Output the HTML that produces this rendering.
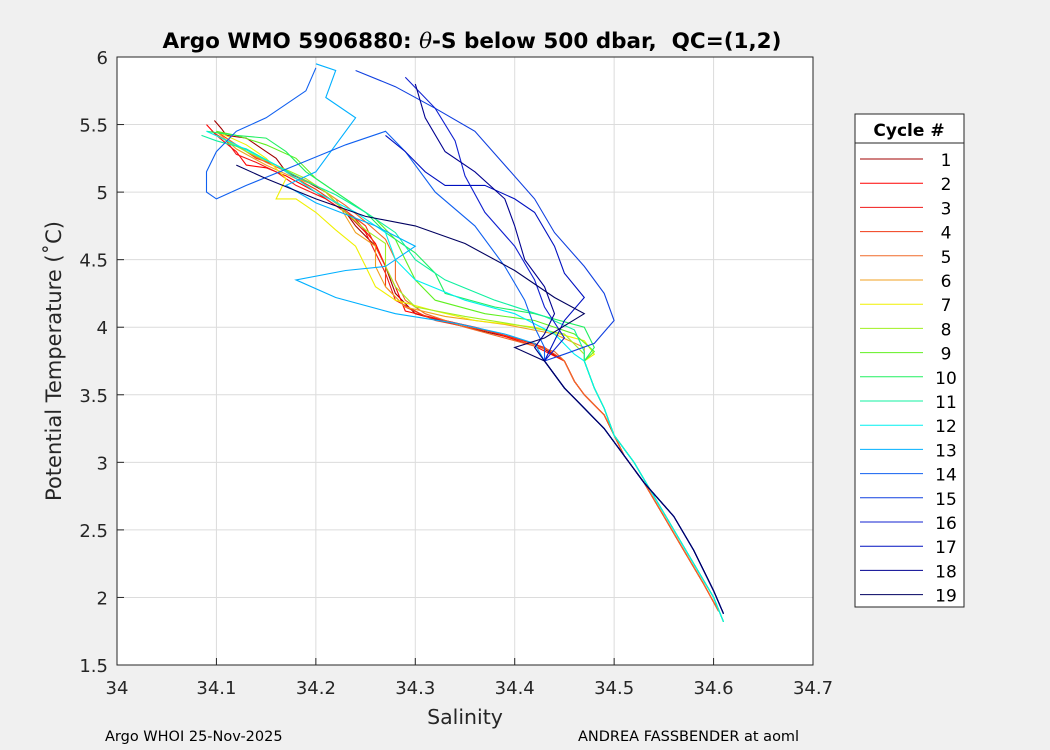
<!DOCTYPE html>
<html><head><meta charset="utf-8"><style>
body{margin:0;background:#f0f0f0;}
svg{display:block;font-family:"DejaVu Sans","Liberation Sans",sans-serif;}
</style></head><body>
<svg id="chart" width="1050" height="750">
<rect x="0" y="0" width="1050" height="750" fill="#f0f0f0"/>
<rect x="117" y="57" width="696" height="608" fill="#fff"/>
<g id="grid"></g>
<g id="series"></g>
<rect x="117" y="57" width="696" height="608" fill="none" stroke="#262626" stroke-width="1"/>
<g id="ticks"></g>
<text x="472" y="48" text-anchor="middle" font-size="21.5" font-weight="bold" fill="#000" xml:space="preserve">Argo WMO 5906880: <tspan font-family="DejaVu Serif,serif" font-style="italic" font-weight="normal">θ</tspan>-S below 500 dbar,  QC=(1,2)</text>
<text x="465" y="724" text-anchor="middle" font-size="20.5" fill="#262626">Salinity</text>
<text transform="translate(61,361) rotate(-90)" text-anchor="middle" font-size="21" fill="#262626">Potential Temperature (˚C)</text>
<text x="105" y="741" font-size="14.5" fill="#000">Argo WHOI 25-Nov-2025</text>
<text x="578" y="741" font-size="14.5" fill="#000">ANDREA FASSBENDER at aoml</text>
<g id="legend">
<rect x="855" y="114" width="109" height="493" fill="#fff" stroke="#262626"/>
<line x1="855" y1="143" x2="964" y2="143" stroke="#262626"/>
<text x="909" y="136" text-anchor="middle" font-size="17" font-weight="bold">Cycle #</text>
</g>
</svg>
<script>
const xTicks=[34,34.1,34.2,34.3,34.4,34.5,34.6,34.7];
const yTicks=[1.5,2,2.5,3,3.5,4,4.5,5,5.5,6];
const cycles=[1,2,3,4,5,6,7,8,9,10,11,12,13,14,15,16,17,18,19];
const colors=["#a00000","#ff0000","#f01818","#f03a14","#f06a28","#f0a020","#f0f000","#a0f020","#60f020","#20f060","#10f0a0","#00f0f0","#00b0ff","#1060f0","#1040e0","#1020d0","#0010c0","#000090","#000060"];
const tailA=[[34.45,3.75],[34.46,3.6],[34.47,3.5],[34.49,3.35],[34.5,3.2],[34.51,3.05],[34.53,2.85],[34.55,2.6],[34.57,2.35],[34.59,2.1],[34.605,1.9]];
const tailB=[[34.47,3.75],[34.48,3.55],[34.49,3.4],[34.5,3.2],[34.52,3.0],[34.54,2.75],[34.56,2.5],[34.58,2.25],[34.6,2.0],[34.61,1.82]];
const tailC=[[34.43,3.75],[34.45,3.55],[34.47,3.4],[34.49,3.25],[34.51,3.05],[34.53,2.85],[34.56,2.6],[34.58,2.35],[34.6,2.05],[34.61,1.88]];
const tailChoice=["A","A","A","A","A","B","B","B","B","B","B","B","C","C","C","C","C","C","C"];
const heads=[
[[34.098,5.53],[34.105,5.47],[34.11,5.42],[34.13,5.4],[34.14,5.35],[34.15,5.3],[34.16,5.25],[34.17,5.15],[34.19,5.08],[34.21,5.0],[34.23,4.85],[34.24,4.75],[34.26,4.6],[34.27,4.45],[34.28,4.25],[34.3,4.1],[34.34,4.02],[34.38,3.95],[34.42,3.88]],
[[34.09,5.5],[34.1,5.42],[34.12,5.3],[34.13,5.2],[34.15,5.18],[34.17,5.12],[34.2,5.0],[34.22,4.9],[34.24,4.8],[34.26,4.62],[34.27,4.45],[34.28,4.3],[34.29,4.12],[34.33,4.05],[34.37,3.98],[34.42,3.86]],
[[34.095,5.45],[34.11,5.38],[34.12,5.28],[34.14,5.22],[34.16,5.15],[34.18,5.05],[34.21,4.95],[34.23,4.85],[34.25,4.7],[34.26,4.55],[34.27,4.4],[34.28,4.2],[34.31,4.08],[34.36,4.0],[34.4,3.92],[34.43,3.85]],
[[34.1,5.45],[34.12,5.35],[34.14,5.25],[34.16,5.2],[34.18,5.1],[34.2,5.02],[34.22,4.92],[34.25,4.75],[34.26,4.6],[34.27,4.45],[34.27,4.3],[34.29,4.15],[34.32,4.05],[34.38,3.96],[34.43,3.85]],
[[34.11,5.4],[34.13,5.3],[34.15,5.22],[34.18,5.12],[34.2,5.05],[34.23,4.9],[34.25,4.78],[34.27,4.65],[34.28,4.5],[34.28,4.35],[34.29,4.2],[34.31,4.1],[34.35,4.0],[34.4,3.9],[34.44,3.82]],
[[34.1,5.45],[34.12,5.32],[34.15,5.2],[34.18,5.1],[34.2,5.05],[34.22,4.95],[34.23,4.82],[34.24,4.7],[34.26,4.6],[34.26,4.45],[34.27,4.3],[34.29,4.15],[34.33,4.08],[34.39,4.02],[34.44,3.95],[34.47,3.85]],
[[34.1,5.45],[34.13,5.35],[34.15,5.25],[34.17,5.1],[34.16,4.95],[34.18,4.95],[34.2,4.85],[34.22,4.72],[34.24,4.6],[34.25,4.45],[34.26,4.3],[34.28,4.2],[34.32,4.12],[34.36,4.05],[34.42,4.0],[34.47,3.9],[34.48,3.8]],
[[34.1,5.42],[34.13,5.3],[34.16,5.2],[34.19,5.1],[34.21,5.0],[34.23,4.85],[34.25,4.72],[34.27,4.62],[34.27,4.45],[34.28,4.3],[34.3,4.15],[34.35,4.08],[34.4,4.02],[34.45,3.95],[34.47,3.8]],
[[34.1,5.45],[34.12,5.42],[34.15,5.35],[34.18,5.25],[34.2,5.1],[34.23,4.95],[34.26,4.8],[34.28,4.65],[34.29,4.5],[34.3,4.35],[34.32,4.2],[34.37,4.1],[34.42,4.05],[34.46,3.95],[34.48,3.82]],
[[34.09,5.45],[34.12,5.42],[34.15,5.4],[34.17,5.3],[34.19,5.15],[34.22,5.0],[34.25,4.85],[34.27,4.7],[34.3,4.55],[34.32,4.4],[34.33,4.25],[34.38,4.15],[34.42,4.1],[34.47,4.0],[34.48,3.85]],
[[34.085,5.42],[34.1,5.38],[34.13,5.32],[34.16,5.2],[34.19,5.08],[34.22,4.98],[34.25,4.85],[34.28,4.7],[34.3,4.5],[34.33,4.35],[34.38,4.2],[34.43,4.08],[34.46,3.98],[34.47,3.82]],
[[34.09,5.45],[34.12,5.35],[34.16,5.2],[34.2,5.0],[34.24,4.85],[34.27,4.7],[34.28,4.5],[34.3,4.35],[34.35,4.2],[34.4,4.1],[34.44,3.95],[34.46,3.8]],
[[34.2,5.95],[34.22,5.9],[34.21,5.7],[34.24,5.55],[34.22,5.35],[34.2,5.15],[34.17,5.05],[34.2,4.92],[34.26,4.75],[34.3,4.6],[34.27,4.45],[34.23,4.42],[34.18,4.35],[34.22,4.22],[34.28,4.1],[34.34,4.03],[34.39,3.95],[34.42,3.88]],
[[34.2,5.92],[34.19,5.75],[34.15,5.55],[34.12,5.45],[34.1,5.3],[34.09,5.15],[34.09,5.0],[34.1,4.95],[34.13,5.05],[34.18,5.2],[34.23,5.35],[34.27,5.45],[34.29,5.3],[34.32,5.0],[34.36,4.75],[34.39,4.45],[34.41,4.2],[34.42,4.0],[34.43,3.85]],
[[34.24,5.9],[34.28,5.78],[34.32,5.62],[34.36,5.45],[34.39,5.2],[34.42,4.95],[34.44,4.7],[34.47,4.45],[34.49,4.25],[34.5,4.05],[34.48,3.88],[34.45,3.8]],
[[34.29,5.85],[34.32,5.62],[34.34,5.38],[34.35,5.12],[34.37,4.85],[34.4,4.6],[34.42,4.35],[34.43,4.15],[34.45,3.92]],
[[34.27,5.42],[34.29,5.3],[34.31,5.15],[34.33,5.05],[34.37,5.05],[34.4,4.95],[34.42,4.85],[34.44,4.6],[34.45,4.4],[34.47,4.22],[34.45,4.05],[34.44,3.9]],
[[34.3,5.8],[34.31,5.55],[34.33,5.3],[34.36,5.15],[34.39,4.95],[34.4,4.75],[34.41,4.5],[34.43,4.3],[34.44,4.1],[34.43,3.95],[34.42,3.85]],
[[34.12,5.2],[34.15,5.1],[34.2,4.95],[34.25,4.82],[34.3,4.75],[34.35,4.62],[34.4,4.42],[34.44,4.22],[34.47,4.1],[34.43,3.92],[34.4,3.85]]
];
const NS="http://www.w3.org/2000/svg";
const X0=117,X1=813,Y0=665,Y1=57;
function xs(s){return X0+(s-34)/0.7*(X1-X0);}
function ys(t){return Y0-(t-1.5)/4.5*(Y0-Y1);}
const grid=document.getElementById('grid'),ticks=document.getElementById('ticks'),series=document.getElementById('series'),legend=document.getElementById('legend');
xTicks.forEach(v=>{
 const x=xs(v);
 const g=document.createElementNS(NS,'line');
 
 
 g.setAttribute('x1',x);g.setAttribute('x2',x);g.setAttribute('y1',Y1);g.setAttribute('y2',Y0);g.setAttribute('stroke','#dcdcdc');
 grid.appendChild(g);
 const t=document.createElementNS(NS,'line');
 
 
 t.setAttribute('x1',x);t.setAttribute('x2',x);t.setAttribute('y1',Y0);t.setAttribute('y2',Y0-7);t.setAttribute('stroke','#262626');
 ticks.appendChild(t);
 const l=document.createElementNS(NS,'text');
 
 
 l.setAttribute('x',x);l.setAttribute('y',Y0+29);l.setAttribute('text-anchor','middle');l.setAttribute('font-size','18');l.setAttribute('fill','#262626');
 l.textContent=String(v);
 ticks.appendChild(l);
});
yTicks.forEach(v=>{
 const y=ys(v);
 const g=document.createElementNS(NS,'line');
 
 
 g.setAttribute('x1',X0);g.setAttribute('x2',X1);g.setAttribute('y1',y);g.setAttribute('y2',y);g.setAttribute('stroke','#dcdcdc');
 grid.appendChild(g);
 const t=document.createElementNS(NS,'line');
 
 
 t.setAttribute('x1',X0);t.setAttribute('x2',X0+7);t.setAttribute('y1',y);t.setAttribute('y2',y);t.setAttribute('stroke','#262626');
 ticks.appendChild(t);
 const l=document.createElementNS(NS,'text');
 
 
 l.setAttribute('x',X0-9);l.setAttribute('y',y+7);l.setAttribute('text-anchor','end');l.setAttribute('font-size','18');l.setAttribute('fill','#262626');
 l.textContent=String(v);
 ticks.appendChild(l);
});
const tails={A:tailA,B:tailB,C:tailC};
cycles.forEach((c,i)=>{
 const pts=heads[i].concat(tails[tailChoice[i]]);
 const p=document.createElementNS(NS,'polyline');
 
 
 p.setAttribute('points',pts.map(d=>xs(d[0]).toFixed(1)+','+ys(d[1]).toFixed(1)).join(' '));
 p.setAttribute('fill','none');p.setAttribute('stroke',colors[i]);p.setAttribute('stroke-width','1.1');
 series.appendChild(p);
 const ly=159+i*24.2;
 const ll=document.createElementNS(NS,'line');
 
 
 ll.setAttribute('x1',860);ll.setAttribute('x2',923);ll.setAttribute('y1',ly);ll.setAttribute('y2',ly);ll.setAttribute('stroke',colors[i]);
 legend.appendChild(ll);
 const lt=document.createElementNS(NS,'text');
 
 
 lt.setAttribute('x',946);lt.setAttribute('y',ly+7);lt.setAttribute('text-anchor','middle');lt.setAttribute('font-size','17');
 lt.textContent=String(c);
 legend.appendChild(lt);
});
</script>
</body></html>
